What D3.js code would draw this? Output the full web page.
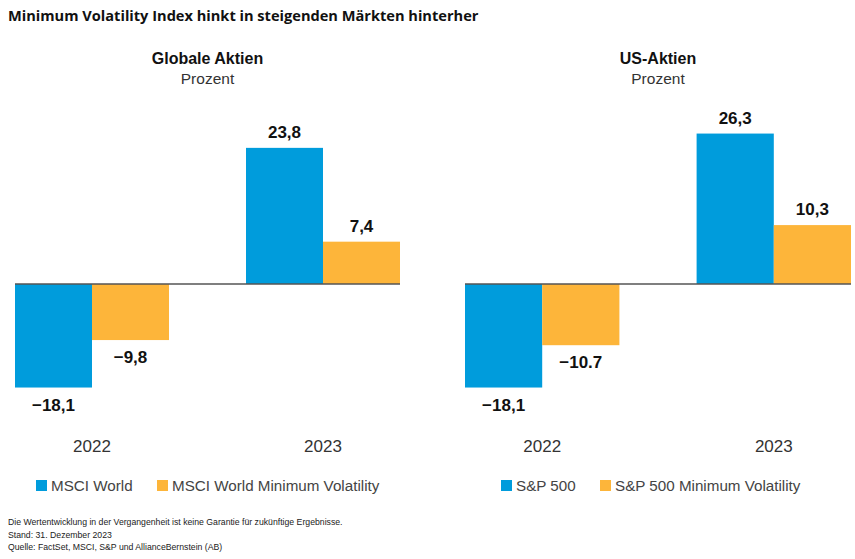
<!DOCTYPE html>
<html>
<head>
<meta charset="utf-8">
<script src="https://cdn.jsdelivr.net/npm/d3@7"></script>
<style>
  body { margin: 0; background: #fff; }
  svg { font-family: "Liberation Sans", Arial, sans-serif; }
</style>
</head>
<body>
<div id="chart"></div>
<script>
// data
const years = ["2022", "2023"];
const globalSeries = ["MSCI World", "MSCI World Minimum Volatility"];
const globalMain = [-18.1, 23.8];
const globalMinVol = [-9.8, 7.4];
const globalLabels = [["−18,1", "23,8"], ["−9,8", "7,4"]];
const usSeries = ["S&P 500", "S&P 500 Minimum Volatility"];
const usMain = [-18.1, 26.3];
const usMinVol = [-10.7, 10.3];
const usLabels = [["−18,1", "26,3"], ["−10.7", "10,3"]];
const footnotes = [
  "Die Wertentwicklung in der Vergangenheit ist keine Garantie für zukünftige Ergebnisse.",
  "Stand: 31. Dezember 2023",
  "Quelle: FactSet, MSCI, S&P und AllianceBernstein (AB)"
];

const colors = ["#009cdc", "#fdb53a"];
const width = 855, height = 559;

const svg = d3.select("#chart").append("svg")
    .attr("width", width)
    .attr("height", height);

svg.append("text")
    .attr("x", 8).attr("y", 21)
    .style("font-family", "'Open Sans', sans-serif")
    .attr("font-weight", "bold")
    .attr("font-size", 14.6)
    .attr("fill", "#111")
    .text("Minimum Volatility Index hinkt in steigenden Märkten hinterher");

// shared y scale so both panels line up
const y = d3.scaleLinear().domain([-20, 30]).range([398.4, 112.4]);

function panel(x0, x1, title, series, main, minVol, labels, legendX) {
    const g = svg.append("g");
    const x = d3.scaleBand().domain(years).range([x0, x1]).paddingInner(1/3).paddingOuter(0);
    const inner = d3.scaleBand().domain([0, 1]).range([0, x.bandwidth()]);
    const cx = (x0 + x1) / 2;

    g.append("text").attr("x", cx).attr("y", 64)
        .attr("text-anchor", "middle").attr("font-weight", "bold")
        .attr("font-size", 16).attr("fill", "#111").text(title);
    g.append("text").attr("x", cx).attr("y", 84)
        .attr("text-anchor", "middle")
        .attr("font-size", 15.5).attr("fill", "#333").text("Prozent");

    const rows = [main, minVol];
    rows.forEach((vals, s) => {
        g.selectAll(".bar" + s).data(vals).enter().append("rect")
            .attr("x", (d, i) => x(years[i]) + inner(s))
            .attr("width", inner.bandwidth())
            .attr("y", d => y(Math.max(0, d)))
            .attr("height", d => Math.abs(y(d) - y(0)))
            .attr("fill", colors[s]);

        g.selectAll(".lab" + s).data(vals).enter().append("text")
            .attr("x", (d, i) => x(years[i]) + inner(s) + inner.bandwidth() / 2)
            .attr("y", d => d >= 0 ? y(d) - 10 : y(d) + 23)
            .attr("text-anchor", "middle")
            .attr("font-weight", "bold")
            .attr("font-size", 17)
            .attr("fill", "#111")
            .text((d, i) => labels[s][i]);
    });

    g.append("line")
        .attr("x1", x0).attr("x2", x1)
        .attr("y1", y(0)).attr("y2", y(0))
        .attr("stroke", "#555").attr("stroke-width", 1.5);

    g.selectAll(".year").data(years).enter().append("text")
        .attr("x", d => x(d) + x.bandwidth() / 2)
        .attr("y", 452)
        .attr("text-anchor", "middle")
        .attr("font-size", 17)
        .attr("fill", "#333")
        .text(d => d);

    // legend
    series.forEach((name, s) => {
        g.append("rect")
            .attr("x", legendX[s]).attr("y", 480)
            .attr("width", 11).attr("height", 11)
            .attr("fill", colors[s]);
        g.append("text")
            .attr("x", legendX[s] + 15).attr("y", 491)
            .attr("font-size", 15.2).attr("fill", "#444")
            .text(name);
    });
}

panel(15, 400, "Globale Aktien", globalSeries, globalMain, globalMinVol, globalLabels, [36, 157]);
panel(465, 851, "US-Aktien", usSeries, usMain, usMinVol, usLabels, [501, 600]);

svg.selectAll(".foot").data(footnotes).enter().append("text")
    .attr("x", 8)
    .attr("y", (d, i) => 525 + i * 12.5)
    .attr("font-size", 8.7)
    .attr("fill", "#222")
    .text(d => d);
</script>
</body>
</html>
